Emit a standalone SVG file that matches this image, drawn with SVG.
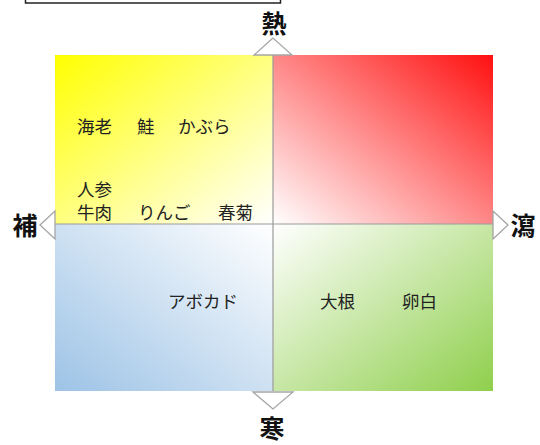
<svg xmlns="http://www.w3.org/2000/svg" width="540" height="445" viewBox="0 0 540 445">
  <style>
    .axis { font-family: "Noto Sans CJK JP", "Noto Sans", sans-serif; font-size: 25px; font-weight: bold; fill: #111; text-anchor: middle; }
    .item { font-family: "Noto Sans CJK JP", "Noto Sans", sans-serif; font-size: 17.5px; fill: #222; }
    .tri { fill: #fff; stroke: #a6a6a6; stroke-width: 1.3; }
    .line { stroke: #9a9a9a; stroke-width: 1.2; fill: none; }
  </style>
  <defs>
    <linearGradient id="gY" x1="0" y1="0" x2="1" y2="1">
      <stop offset="0" stop-color="#ffff00"/>
      <stop offset="1" stop-color="#ffffff"/>
    </linearGradient>
    <linearGradient id="gR" x1="1" y1="0" x2="0" y2="1">
      <stop offset="0" stop-color="#ff1010"/>
      <stop offset="1" stop-color="#ffffff"/>
    </linearGradient>
    <linearGradient id="gB" x1="0" y1="1" x2="1" y2="0">
      <stop offset="0" stop-color="#9dc3e6"/>
      <stop offset="1" stop-color="#ffffff"/>
    </linearGradient>
    <linearGradient id="gG" x1="1" y1="1" x2="0" y2="0">
      <stop offset="0" stop-color="#8fcf4c"/>
      <stop offset="1" stop-color="#ffffff"/>
    </linearGradient>
  </defs>

  <g id="title-box">
    <rect x="25.5" y="-12" width="255" height="15" fill="#fff" stroke="#222" stroke-width="1.5"/>
  </g>

  <g id="quadrant-hot-tonify">
    <rect x="55" y="55" width="218" height="169" fill="url(#gY)"/>
    <text class="item" x="77" y="133">海老</text>
    <text class="item" x="137" y="133">鮭</text>
    <text class="item" x="178" y="133">かぶら</text>
    <text class="item" x="77" y="196">人参</text>
    <text class="item" x="77" y="219">牛肉</text>
    <text class="item" x="138" y="219">りんご</text>
    <text class="item" x="218" y="219">春菊</text>
  </g>
  <g id="quadrant-hot-purge">
    <rect x="273" y="55" width="220" height="169" fill="url(#gR)"/>
  </g>
  <g id="quadrant-cold-tonify">
    <rect x="55" y="224" width="218" height="167" fill="url(#gB)"/>
    <text class="item" x="168" y="308">アボカド</text>
  </g>
  <g id="quadrant-cold-purge">
    <rect x="273" y="224" width="220" height="167" fill="url(#gG)"/>
    <text class="item" x="320" y="308">大根</text>
    <text class="item" x="402" y="308">卵白</text>
  </g>

  <g id="connectors">
    <line class="line" x1="273" y1="55" x2="273" y2="391"/>
    <line class="line" x1="55" y1="224" x2="493" y2="224"/>
    <polygon class="tri" points="273,38 254,55 292,55"/>
    <polygon class="tri" points="273,409 253,392 293,392"/>
    <polygon class="tri" points="40,225 55,211 55,239"/>
    <polygon class="tri" points="508,225 493,211 493,239"/>
  </g>

  <g id="label-heat"><text class="axis" x="274" y="33">熱</text></g>
  <g id="label-cold"><text class="axis" x="272" y="438">寒</text></g>
  <g id="label-tonify"><text class="axis" x="25" y="235">補</text></g>
  <g id="label-purge"><text class="axis" x="523" y="235">瀉</text></g>
</svg>
